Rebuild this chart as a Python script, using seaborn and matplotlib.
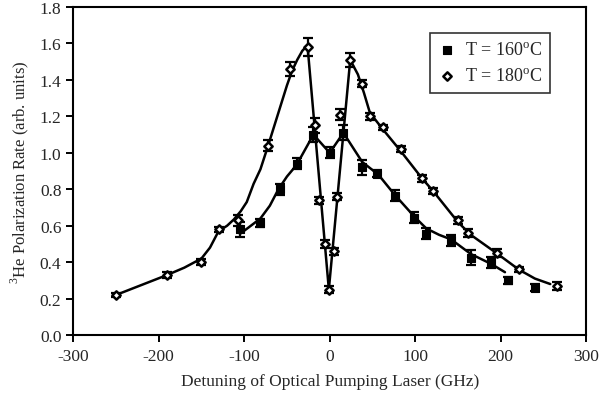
import matplotlib
matplotlib.use("Agg")
import matplotlib.pyplot as plt
import seaborn as sns
import numpy as np
import pandas as pd

# ---- data ----
det_160 = [-105, -81, -58, -38, -19, 0, 16, 38, 55, 76, 99, 113, 142, 165, 189, 208, 240]
pol_160 = [0.58, 0.615, 0.80, 0.94, 1.10, 1.00, 1.11, 0.92, 0.885, 0.765, 0.645, 0.555, 0.52, 0.425, 0.40, 0.30, 0.26]
err_160 = [0.04, 0.02, 0.03, 0.03, 0.04, 0.03, 0.04, 0.04, 0.02, 0.03, 0.03, 0.03, 0.03, 0.04, 0.03, 0.02, 0.02]

det_180 = [-250, -190, -151, -130, -107, -72, -46, -25, -17, -12, -6, -1, 5, 9, 12, 24, 38, 47, 62, 83, 108, 121, 150, 162, 196, 221, 266]
pol_180 = [0.22, 0.33, 0.40, 0.58, 0.63, 1.04, 1.46, 1.58, 1.15, 0.74, 0.50, 0.25, 0.46, 0.76, 1.21, 1.51, 1.38, 1.20, 1.14, 1.02, 0.86, 0.79, 0.63, 0.56, 0.45, 0.36, 0.27]
err_180 = [0.01, 0.015, 0.015, 0.015, 0.03, 0.03, 0.04, 0.05, 0.04, 0.02, 0.02, 0.02, 0.02, 0.02, 0.03, 0.04, 0.02, 0.02, 0.015, 0.015, 0.02, 0.015, 0.02, 0.02, 0.02, 0.015, 0.02]

# guide curves drawn through the data in the reference
fit_160_x = [-105, -95, -81, -70, -60, -50, -42, -38, -19, 0, 16, 38, 57, 76, 99, 113, 128, 142, 165, 189, 205]
fit_160_y = [0.555, 0.59, 0.64, 0.71, 0.80, 0.87, 0.915, 0.94, 1.10, 1.00, 1.11, 0.95, 0.88, 0.77, 0.65, 0.585, 0.55, 0.525, 0.445, 0.39, 0.345]

fit_180_x = [-250, -190, -170, -150, -140, -130, -120, -112, -104, -97, -89, -81, -72, -60, -50, -44, -38, -32, -26,
             -1, 24, 33, 40, 47, 62, 83, 108, 121, 150, 165, 195, 221, 240, 258]
fit_180_y = [0.22, 0.33, 0.37, 0.42, 0.48, 0.57, 0.60, 0.635, 0.68, 0.73, 0.83, 0.91, 1.04, 1.22, 1.37, 1.45, 1.51, 1.56, 1.59,
             0.25, 1.51, 1.43, 1.33, 1.22, 1.13, 1.01, 0.86, 0.79, 0.62, 0.55, 0.45, 0.36, 0.31, 0.28]

labels = ["T = 160$^{\\mathregular{o}}$C", "T = 180$^{\\mathregular{o}}$C"]
x_label = "Detuning of Optical Pumping Laser (GHz)"
y_label = "$^{3}$He Polarization Rate (arb. units)"

sns.set_style("ticks")
plt.rcParams['font.family'] = ['Liberation Serif', 'DejaVu Serif']
plt.rcParams['mathtext.fontset'] = 'custom'
plt.rcParams['mathtext.rm'] = 'Liberation Serif'
plt.rcParams['axes.unicode_minus'] = False

fig = plt.figure(figsize=(6.0, 4.02), dpi=100)
ax = fig.add_axes([0.122, 0.164, 0.855, 0.816])

df160 = pd.DataFrame({"x": det_160, "y": pol_160, "e": err_160})
df180 = pd.DataFrame({"x": det_180, "y": pol_180, "e": err_180})
fit160 = pd.DataFrame({"x": fit_160_x, "y": fit_160_y})
fit180 = pd.DataFrame({"x": fit_180_x, "y": fit_180_y})

sns.lineplot(data=fit180, x="x", y="y", sort=False, color="black", lw=1.8, ax=ax, estimator=None)
sns.lineplot(data=fit160, x="x", y="y", sort=False, color="black", lw=1.8, ax=ax, estimator=None)

ax.errorbar(df180["x"], df180["y"], yerr=df180["e"], fmt="none", ecolor="black",
            elinewidth=1.6, capsize=3.5, capthick=1.6, zorder=3)
ax.errorbar(df160["x"], df160["y"], yerr=df160["e"], fmt="none", ecolor="black",
            elinewidth=1.6, capsize=3.5, capthick=1.6, zorder=3)

sns.scatterplot(data=df160, x="x", y="y", marker="s", s=30, color="black",
                edgecolor="black", linewidth=0.8, ax=ax, zorder=4, label=labels[0])
sns.scatterplot(data=df180, x="x", y="y", marker="D", s=18, color="white",
                edgecolor="black", linewidth=1.8, ax=ax, zorder=4, label=labels[1])

ax.set_xlim(-300, 300)
ax.set_ylim(0, 1.8)
ax.set_xticks(np.arange(-300, 301, 100))
ax.set_yticks(np.arange(0, 1.81, 0.2))
ax.set_yticklabels([f"{v:.1f}" for v in np.arange(0, 1.81, 0.2)])
ax.tick_params(axis="both", direction="out", length=5, width=1.4, labelsize=12.5, color="black")
ax.tick_params(axis="x", pad=4)
for s in ax.spines.values():
    s.set_linewidth(1.5)
    s.set_color("black")
ax.set_xlabel(x_label, fontsize=12.5, labelpad=7)
ax.set_ylabel(y_label, fontsize=12, labelpad=6)

leg = ax.legend(loc="upper right", bbox_to_anchor=(0.93, 0.92), frameon=True, fancybox=False,
                fontsize=13, handletextpad=0.5, borderpad=0.45, labelspacing=0.5,
                handlelength=1.0, markerscale=1.0, borderaxespad=0)
leg.get_frame().set_edgecolor("black")
leg.get_frame().set_linewidth(1.2)

fig.savefig("out.png", dpi=100)
